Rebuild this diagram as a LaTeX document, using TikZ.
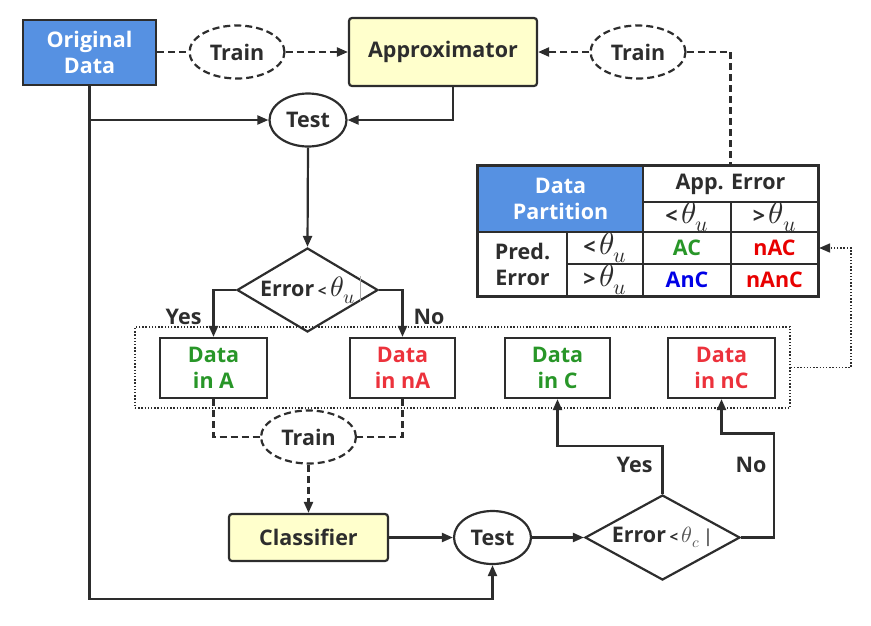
\documentclass[tikz,border=0pt]{standalone}
\usepackage{fontspec}
\usepackage{unicode-math}
\setmainfont{Open Sans}
\setmathfont{Latin Modern Math}
\usetikzlibrary{shapes.geometric,arrows.meta}
\definecolor{lc}{RGB}{45,45,45}
\definecolor{bluefill}{RGB}{86,145,226}
\definecolor{yelfill}{RGB}{255,255,204}
\definecolor{dgreen}{RGB}{40,150,40}
\definecolor{dred}{RGB}{236,50,60}
\definecolor{tred}{RGB}{232,0,0}
\definecolor{tblue}{RGB}{0,0,230}
\newcommand{\thu}{{\fontsize{31}{31}\selectfont$\theta_u$}}
\newcommand{\thd}{{\fontsize{28}{28}\selectfont$\theta_u$}}
\newcommand{\thc}{{\fontsize{22}{22}\selectfont\textcolor{lc!80}{$\theta_c$}}}
\newcommand{\smlt}{{\fontsize{15}{15}\selectfont<}}
\tikzset{
  txt/.style={font=\fontsize{21.5}{26}\selectfont\bfseries, text=lc, align=center},
  boxn/.style={txt, draw=lc, line width=2.2pt, inner sep=0pt},
  ellnode/.style={txt, ellipse, draw=lc, line width=2.2pt, inner sep=0pt, minimum width=77pt, minimum height=53pt},
  trainell/.style={ellnode, dash pattern=on 7pt off 4pt, minimum width=95pt, minimum height=53pt},
  dia/.style={diamond, draw=lc, line width=2.2pt, inner sep=0pt, aspect=1.68},
  conn/.style={draw=lc, line width=2.2pt},
  arr/.style={conn, -{Triangle[length=11pt,width=9pt]}},
  dconn/.style={conn, dash pattern=on 7pt off 4pt},
  darr/.style={dconn, -{Triangle[length=11pt,width=9pt]}},
  dotconn/.style={draw=lc, line width=1.7pt, dash pattern=on 1.4pt off 1.8pt},
  cell/.style={txt, draw=lc, line width=2.2pt, inner sep=0pt},
}
\begin{document}
\begin{tikzpicture}[x=1pt,y=-1pt]
\useasboundingbox (0,0) rectangle (871,625);

% top row
\node[boxn, fill=bluefill, text=white, minimum width=133pt, minimum height=65pt] (od) at (89.5,52.5) {Original\\Data};
\node[trainell] (tr1) at (237,52) {Train};
\node[boxn, fill=yelfill, rounded corners=3pt, minimum width=188pt, minimum height=68pt] (apx) at (443,52) {Approximator};
\node[trainell] (tr2) at (638,52) {Train};

\node[ellnode] (t1) at (308,120) {Test};

% diamond 1
\node[dia, minimum width=141pt, minimum height=84pt] (d1) at (307.5,290) {};
\node[txt] at (d1) {Error\,\smlt\,\thd};
\draw[lc!40, line width=0.6pt] (360,276) -- (360,302);

% group of data boxes
\node[dotconn, minimum width=655pt, minimum height=81pt, inner sep=0pt] (grp) at (462.5,367.5) {};
\node[boxn, text=dgreen, minimum width=107pt, minimum height=60pt] (da) at (213.5,368) {Data\\in A};
\node[boxn, text=dred, minimum width=105pt, minimum height=60pt] (dna) at (402.5,368) {Data\\in nA};
\node[boxn, text=dgreen, minimum width=105pt, minimum height=60pt] (dc) at (557.5,368) {Data\\in C};
\node[boxn, text=dred, minimum width=107pt, minimum height=60pt] (dnc) at (721.5,368) {Data\\in nC};

% table
\node[cell, fill=bluefill, text=white, minimum width=165pt, minimum height=66pt] (dp) at (560.5,199) {Data\\Partition};
\node[cell, minimum width=175pt, minimum height=36pt] (apperr) at (730.5,184) {App. Error};
\node[cell, minimum width=88pt, minimum height=30pt] (ltu1) at (687,217) {<\,\thu};
\node[cell, minimum width=87pt, minimum height=30pt] (gtu1) at (774.5,217) {>\,\thu};
\node[cell, minimum width=89pt, minimum height=64pt] (pe) at (522.5,264) {Pred.\\Error};
\node[cell, minimum width=76pt, minimum height=32pt] (ltu2) at (605,248) {<\,\thu};
\node[cell, minimum width=76pt, minimum height=32pt] (gtu2) at (605,280) {>\,\thu};
\node[cell, text=dgreen, minimum width=88pt, minimum height=32pt] (ac) at (687,248) {AC};
\node[cell, text=tred, minimum width=87pt, minimum height=32pt] (nac) at (774.5,248) {nAC};
\node[cell, text=tblue, minimum width=88pt, minimum height=32pt] (anc) at (687,280) {AnC};
\node[cell, text=tred, minimum width=87pt, minimum height=32pt] (nanc) at (774.5,280) {nAnC};
\draw[lc, line width=2.6pt] (dp.north west) rectangle (nanc.south east);

% bottom
\node[trainell] (tr3) at (308.5,437) {Train};
\node[boxn, fill=yelfill, rounded corners=3pt, minimum width=159pt, minimum height=47pt] (cls) at (308.5,537.5) {Classifier};
\node[ellnode] (t2) at (492.5,537.5) {Test};
\node[dia, minimum width=155pt, minimum height=85pt] (d2) at (662.5,537.5) {};
\node[txt] at (d2) {Error\,\smlt\,\thc\,{\fontsize{18}{18}\selectfont\textcolor{lc!70}{|}}};

% connectors
\draw[dconn] (od.east |- tr1.west) -- (tr1.west);
\draw[darr] (tr1.east) -- (tr1.east -| apx.west);
\draw[darr] (tr2.west) -- (tr2.west -| apx.east);
\draw[dconn] (tr2.east) -| (apperr.north);

\draw[arr] (od.south |- t1.west) -- (t1.west);
\draw[arr] ([xshift=10pt]apx.south) |- (t1.east);
\draw[arr] (od.south) -- ++(0,513) -| (t2.south);
\draw[arr] (t1.south) -- (d1.north);

\draw[arr] (d1.west) -| (da.north);
\draw[arr] (d1.east) -| (dna.north);
\node[txt, anchor=east] at (205,317) {Yes};
\node[txt, anchor=west] at (410,317) {No};

\draw[dotconn, -{Triangle[length=11pt,width=9pt]}] (grp.east) -- ++(60,0) |- (nac.east);

\draw[dconn] (da.south) |- (tr3.west);
\draw[dconn] (dna.south) |- (tr3.east);
\draw[darr] (tr3.south) -- (cls.north);

\draw[arr] (cls.east) -- (t2.west);
\draw[arr] (t2.east) -- (d2.west);
\draw[arr] (d2.north) -- ++(0,-48) -| (dc.south);
\draw[arr] (d2.east) -- ++(33,0) -- ++(0,-104) -| (dnc.south);
\node[txt, anchor=east] at (656,465) {Yes};
\node[txt, anchor=east] at (770,465) {No};
\end{tikzpicture}
\end{document}
